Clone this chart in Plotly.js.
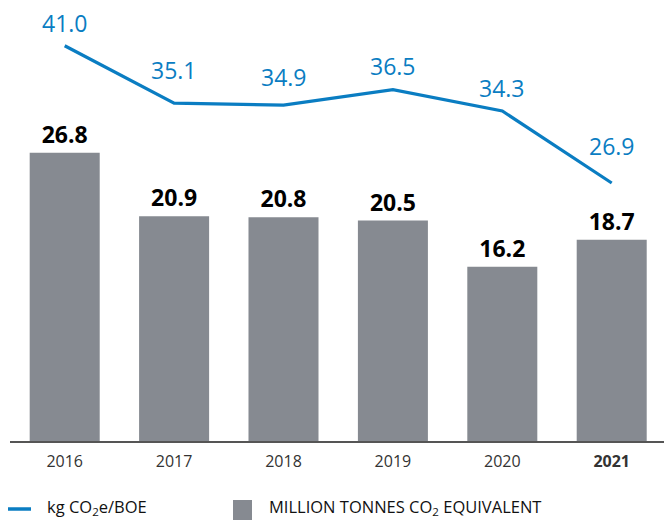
<!DOCTYPE html>
<html>
<head>
<meta charset="utf-8">
<script src="https://cdn.plot.ly/plotly-3.0.1.min.js"></script>
<style>
  body { margin: 0; background: #fff; }
  #chart { width: 664px; height: 520px; }
</style>
</head>
<body>
<div id="chart"></div>
<script>
// chart values
var years = ['2016', '2017', '2018', '2019', '2020', '2021'];
var tickLabels = ['2016', '2017', '2018', '2019', '2020', '<b>2021</b>'];
var emissions = [26.8, 20.9, 20.8, 20.5, 16.2, 18.7];      // million tonnes CO2e
var intensity = [41.0, 35.1, 34.9, 36.5, 34.3, 26.9];      // kg CO2e/BOE

// label offsets above the line points (px)
var lineLabelShift = [23, 33, 28, 24, 23, 37];

const colours = {
    bar  : '#868a91',
    line : '#0a7dc2',
    axis : '#555555'
};

var barTrace = {
    x: years,
    y: emissions,
    type: 'bar',
    width: 0.64,
    marker: { color: colours.bar },
    text: emissions.map(function (v) { return v.toFixed(1); }),
    textposition: 'outside',
    textfont: { family: 'Open Sans', size: 23, color: '#000', weight: 700 },
    cliponaxis: false,
    showlegend: false,
    hoverinfo: 'skip'
};

var lineTrace = {
    x: years,
    y: intensity,
    yaxis: 'y2',
    type: 'scatter',
    mode: 'lines',
    line: { color: colours.line, width: 3.2 },
    showlegend: false,
    hoverinfo: 'skip'
};

// category strings like '2016' would be read as numbers, so place labels by index
var annotations = intensity.map(function (v, i) {
    return {
        x: i,
        y: v,
        xref: 'x',
        yref: 'y2',
        text: v.toFixed(1),
        showarrow: false,
        yanchor: 'middle',
        yshift: lineLabelShift[i],
        font: { family: 'Open Sans', size: 23, color: colours.line }
    };
});

// hand-made legend under the axis (pixel -> paper helpers)
var L = 10, T = 0, W = 654, H = 441;
function px(x) { return (x - L) / W; }
function py(y) { return (T + H - y) / H; }

annotations.push({
    xref: 'paper', yref: 'paper', x: px(45), y: py(507),
    xanchor: 'left', yanchor: 'middle', showarrow: false,
    text: 'kg CO<sub>2</sub>e/BOE',
    font: { family: 'Open Sans', size: 16.5, color: '#111' }
});
annotations.push({
    xref: 'paper', yref: 'paper', x: px(267), y: py(507),
    xanchor: 'left', yanchor: 'middle', showarrow: false,
    text: 'MILLION TONNES CO<sub>2</sub> EQUIVALENT',
    font: { family: 'Open Sans', size: 16.5, color: '#111' }
});

var shapes = [
    {
        type: 'line', xref: 'paper', yref: 'paper',
        x0: px(8), x1: px(31), y0: py(509), y1: py(509),
        line: { color: colours.line, width: 3.5 }
    },
    {
        type: 'rect', xref: 'paper', yref: 'paper',
        x0: px(233), x1: px(252), y0: py(500), y1: py(522),
        fillcolor: colours.bar, line: { width: 0 }
    }
];

var layout = {
    width: 664,
    height: 520,
    margin: { l: L, r: 0, t: T, b: 520 - H - T },
    paper_bgcolor: '#fff',
    plot_bgcolor: '#fff',
    showlegend: false,
    font: { family: 'Open Sans', color: '#333' },
    xaxis: {
        type: 'category',
        range: [-0.5, 5.478],
        tickvals: years,
        ticktext: tickLabels,
        tickfont: { family: 'Open Sans', size: 16, color: '#333' },
        ticks: '',
        ticklabelstandoff: 5,
        showline: true,
        linecolor: colours.axis,
        linewidth: 1.5,
        showgrid: false,
        zeroline: false
    },
    yaxis: {
        range: [0, 41.0],
        visible: false,
        showgrid: false,
        zeroline: false
    },
    yaxis2: {
        range: [0.4, 45.7],
        overlaying: 'y',
        side: 'right',
        visible: false,
        showgrid: false,
        zeroline: false
    },
    annotations: annotations,
    shapes: shapes
};

Plotly.newPlot('chart', [barTrace, lineTrace], layout, { staticPlot: true, displayModeBar: false });
</script>
</body>
</html>
